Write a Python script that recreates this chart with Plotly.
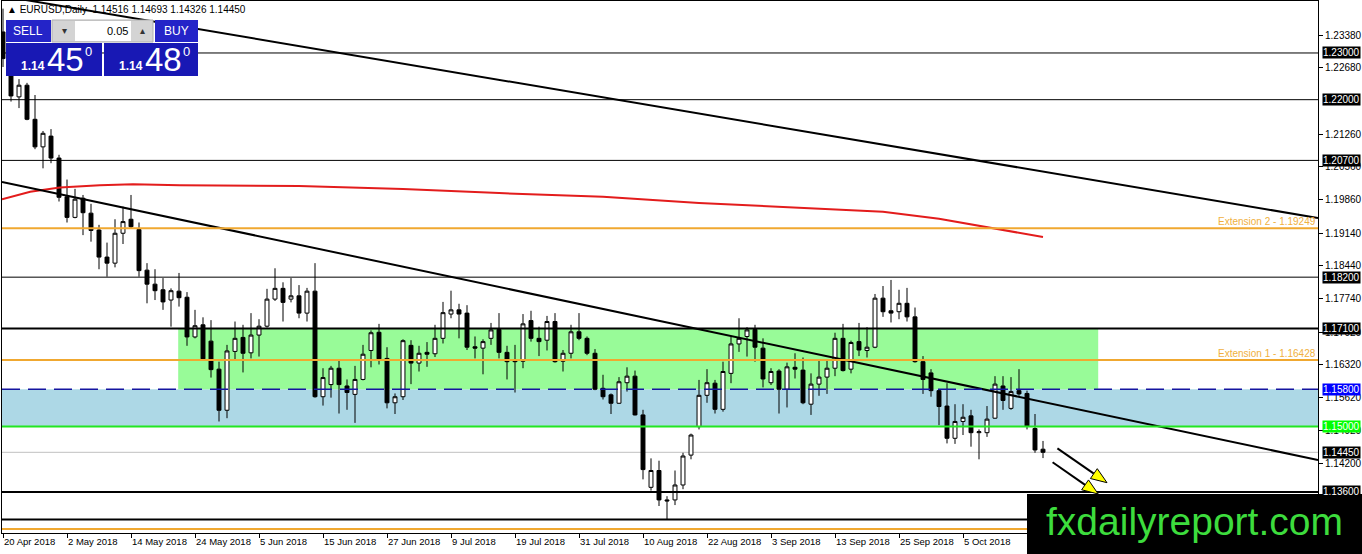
import plotly.graph_objects as go

# Datos OHLC diarios EURUSD, 20 Abr 2018 - 19 Oct 2018
opens = [1.2345, 1.2285, 1.2206, 1.2231, 1.2158, 1.2099, 1.2122, 1.2075, 1.1992, 1.1948,
         1.1989, 1.1957, 1.1921, 1.1863, 1.1850, 1.1914, 1.1944, 1.1922, 1.1835, 1.1805,
         1.1793, 1.1771, 1.1790, 1.1777, 1.1692, 1.1718, 1.1683, 1.1623, 1.1535, 1.1661,
         1.1691, 1.1658, 1.1696, 1.1715, 1.1773, 1.1796, 1.1773, 1.1780, 1.1743, 1.1790,
         1.1564, 1.1590, 1.1625, 1.1587, 1.1569, 1.1601, 1.1663, 1.1702, 1.1646, 1.1551,
         1.1564, 1.1674, 1.1636, 1.1659, 1.1656, 1.1689, 1.1741, 1.1750, 1.1743, 1.1671,
         1.1668, 1.1689, 1.1708, 1.1659, 1.1643, 1.1640, 1.1727, 1.1689, 1.1685, 1.1725,
         1.1640, 1.1657, 1.1703, 1.1689, 1.1657, 1.1582, 1.1568, 1.1550, 1.1594, 1.1608,
         1.1525, 1.1370, 1.1406, 1.1343, 1.1343, 1.1375, 1.1439, 1.1500, 1.1567, 1.1593,
         1.1537, 1.1614, 1.1677, 1.1693, 1.1708, 1.1668, 1.1594, 1.1619, 1.1580, 1.1627,
         1.1621, 1.1548, 1.1591, 1.1606, 1.1625, 1.1689, 1.1623, 1.1682, 1.1663, 1.1670,
         1.1775, 1.1748, 1.1746, 1.1764, 1.1735, 1.1639, 1.1615, 1.1577, 1.1544, 1.1475,
         1.1511, 1.1523, 1.1487, 1.1487, 1.1518, 1.1587, 1.1539, 1.1577, 1.1571, 1.1496,
         1.14516]
highs = [1.2395, 1.2300, 1.2244, 1.2236, 1.2210, 1.2133, 1.2137, 1.2082, 1.2029, 1.2009,
         1.1996, 1.1977, 1.1932, 1.1894, 1.1944, 1.1971, 1.1996, 1.1937, 1.1850, 1.1837,
         1.1818, 1.1796, 1.1829, 1.1788, 1.1750, 1.1734, 1.1728, 1.1639, 1.1675, 1.1725,
         1.1718, 1.1743, 1.1730, 1.1795, 1.1839, 1.1809, 1.1818, 1.1803, 1.1797, 1.1850,
         1.1625, 1.1630, 1.1641, 1.1601, 1.1630, 1.1675, 1.1706, 1.1720, 1.1670, 1.1571,
         1.1687, 1.1685, 1.1673, 1.1681, 1.1718, 1.1767, 1.1791, 1.1763, 1.1760, 1.1693,
         1.1687, 1.1722, 1.1743, 1.1673, 1.1675, 1.1741, 1.1748, 1.1714, 1.1737, 1.1743,
         1.1664, 1.1718, 1.1743, 1.1693, 1.1666, 1.1611, 1.1571, 1.1606, 1.1627, 1.1620,
         1.1536, 1.1432, 1.1427, 1.1351, 1.1406, 1.1444, 1.1485, 1.1600, 1.1623, 1.1600,
         1.1639, 1.1693, 1.1732, 1.1713, 1.1718, 1.1689, 1.1625, 1.1623, 1.1637, 1.1657,
         1.1648, 1.1614, 1.1641, 1.1644, 1.1701, 1.1720, 1.1684, 1.1722, 1.1713, 1.1784,
         1.1801, 1.1814, 1.1793, 1.1797, 1.1755, 1.1651, 1.1623, 1.1578, 1.1593, 1.1548,
         1.1548, 1.1536, 1.1494, 1.1544, 1.1608, 1.1608, 1.1606, 1.1623, 1.1577, 1.1527,
         1.14693]
lows = [1.2270, 1.2196, 1.2182, 1.2156, 1.2094, 1.2053, 1.2064, 1.1982, 1.1937, 1.1946,
        1.1910, 1.1896, 1.1837, 1.1821, 1.1841, 1.1891, 1.1925, 1.1821, 1.1764, 1.1771,
        1.1750, 1.1714, 1.1757, 1.1673, 1.1689, 1.1643, 1.1605, 1.1511, 1.1518, 1.1641,
        1.1616, 1.1646, 1.1650, 1.1712, 1.1769, 1.1725, 1.1766, 1.1732, 1.1725, 1.1562,
        1.1545, 1.1562, 1.1528, 1.1536, 1.1508, 1.1599, 1.1627, 1.1633, 1.1539, 1.1527,
        1.1557, 1.1591, 1.1618, 1.1628, 1.1649, 1.1678, 1.1732, 1.1689, 1.1664, 1.1646,
        1.1612, 1.1675, 1.1646, 1.1601, 1.1573, 1.1625, 1.1682, 1.1651, 1.1663, 1.1637,
        1.1618, 1.1646, 1.1685, 1.1653, 1.1578, 1.1558, 1.1527, 1.1549, 1.1575, 1.1524,
        1.1387, 1.1363, 1.1330, 1.1301, 1.1332, 1.1366, 1.1430, 1.1494, 1.1551, 1.1528,
        1.1532, 1.1593, 1.1660, 1.1650, 1.1639, 1.1584, 1.1589, 1.1528, 1.1541, 1.1603,
        1.1548, 1.1525, 1.1566, 1.1570, 1.1608, 1.1618, 1.1614, 1.1651, 1.1648, 1.1668,
        1.1735, 1.1723, 1.1730, 1.1725, 1.1637, 1.1570, 1.1564, 1.1503, 1.1464, 1.1463,
        1.1482, 1.1457, 1.1430, 1.1478, 1.1517, 1.1536, 1.1536, 1.1566, 1.1494, 1.1444,
        1.14326]
closes = [1.2288, 1.2208, 1.2231, 1.2158, 1.2099, 1.2128, 1.2075, 1.1991, 1.1948, 1.1987,
          1.1958, 1.1920, 1.1863, 1.1850, 1.1914, 1.1939, 1.1928, 1.1834, 1.1805, 1.1791,
          1.1767, 1.1791, 1.1776, 1.1692, 1.1716, 1.1645, 1.1622, 1.1535, 1.1662, 1.1689,
          1.1657, 1.1696, 1.1715, 1.1773, 1.1796, 1.1766, 1.1780, 1.1743, 1.1790, 1.1564,
          1.1605, 1.1625, 1.1590, 1.1573, 1.1601, 1.1655, 1.1701, 1.1645, 1.1551, 1.1564,
          1.1684, 1.1636, 1.1657, 1.1655, 1.1689, 1.1744, 1.1750, 1.1741, 1.1670, 1.1668,
          1.1682, 1.1707, 1.1659, 1.1639, 1.1639, 1.1720, 1.1689, 1.1682, 1.1725, 1.1639,
          1.1657, 1.1703, 1.1689, 1.1657, 1.1580, 1.1564, 1.1550, 1.1596, 1.1608, 1.1525,
          1.1408, 1.1406, 1.1343, 1.1341, 1.1375, 1.1437, 1.1482, 1.1567, 1.1594, 1.1537,
          1.1618, 1.1677, 1.1689, 1.1707, 1.1670, 1.1602, 1.1618, 1.1580, 1.1628, 1.1623,
          1.1551, 1.1591, 1.1606, 1.1625, 1.1689, 1.1620, 1.1680, 1.1664, 1.1670, 1.1775,
          1.1746, 1.1743, 1.1764, 1.1735, 1.1639, 1.1601, 1.1577, 1.1543, 1.1475, 1.1511,
          1.1520, 1.1487, 1.1489, 1.1516, 1.1591, 1.1556, 1.1575, 1.1570, 1.1501, 1.1450,
          1.14450]

# etiquetas del eje X (cada 8 velas)
fechas_ticks = ["20 Apr 2018", "2 May 2018", "14 May 2018", "24 May 2018", "5 Jun 2018",
                "15 Jun 2018", "27 Jun 2018", "9 Jul 2018", "19 Jul 2018", "31 Jul 2018",
                "10 Aug 2018", "22 Aug 2018", "3 Sep 2018", "13 Sep 2018", "25 Sep 2018",
                "5 Oct 2018"]

# media movil (roja)
ma_x = [-0.125, 3.4, 7.1, 12.1, 16.25, 22.1, 37, 50, 62, 75, 87, 100, 110, 117, 122, 126, 130]
ma_y = [1.1987, 1.2003, 1.2012, 1.2017, 1.2019, 1.2017, 1.2015, 1.2009, 1.2000, 1.1992,
        1.1979, 1.1968, 1.1960, 1.1945, 1.1930, 1.1919, 1.1906]

# lineas de tendencia
tend1_x = [-0.125, 164.375]
tend1_y = [1.2422, 1.19467]
tend2_x = [-0.125, 164.375]
tend2_y = [1.20238, 1.14285]

# niveles horizontales
niveles_negros = [1.2300, 1.2200, 1.2070, 1.1820]
niveles_gruesos = [1.1710, 1.1360, 1.1301]
niveles_naranja = [1.19249, 1.16428, 1.1281]
nivel_azul = 1.1580
nivel_verde = 1.1500
nivel_bid = 1.1445

# zonas
zona_verde = [21.9, 136.9, 1.1580, 1.1710]
zona_azul = [1.1500, 1.1580]

# ticks del eje de precios
ticks_precio = [1.2338, 1.2268, 1.2126, 1.2056, 1.1986, 1.1914, 1.1844, 1.1774, 1.1702,
                1.1632, 1.1562, 1.1492, 1.1420]

# flechas (inicio -> punta)
flecha_x0 = [131.8, 131.2]
flecha_y0 = [1.14535, 1.14238]
flecha_x1 = [138.0, 136.9]
flecha_y1 = [1.13799, 1.13557]

X_RANGE = [-0.125, 164.375]
Y_RANGE = [1.12722, 1.24113]
W, H = 1362, 554
ML, MR, MT, MB = 2, 44, 1, 21
PW, PH = W - ML - MR, H - MT - MB
FONT = "Liberation Sans, Arial, sans-serif"


def px(x):
    return (x - ML) / PW


def py(y):
    return (H - MB - y) / PH


fig = go.Figure()

fig.add_trace(go.Candlestick(
    x=list(range(len(opens))), open=opens, high=highs, low=lows, close=closes,
    increasing=dict(fillcolor="white", line=dict(color="black", width=1)),
    decreasing=dict(fillcolor="black", line=dict(color="black", width=1)),
    whiskerwidth=0, hoverinfo="skip", showlegend=False))

fig.add_trace(go.Scatter(x=ma_x, y=ma_y, mode="lines", line=dict(color="#e31c1c", width=2),
                         hoverinfo="skip", showlegend=False))
fig.add_trace(go.Scatter(x=tend1_x, y=tend1_y, mode="lines", line=dict(color="black", width=2),
                         hoverinfo="skip", showlegend=False))
fig.add_trace(go.Scatter(x=tend2_x, y=tend2_y, mode="lines", line=dict(color="black", width=2),
                         hoverinfo="skip", showlegend=False))

shapes = []
# zonas de fondo
shapes.append(dict(type="rect", xref="paper", yref="y", x0=0, x1=1, y0=zona_azul[0], y1=zona_azul[1],
                   fillcolor="#add8e6", line=dict(width=0), layer="below"))
shapes.append(dict(type="rect", xref="x", yref="y", x0=zona_verde[0], x1=zona_verde[1],
                   y0=zona_verde[2], y1=zona_verde[3], fillcolor="#98fb98", line=dict(width=0), layer="below"))

# lineas horizontales
shapes.append(dict(type="line", xref="paper", yref="y", x0=0, x1=1, y0=nivel_bid, y1=nivel_bid,
                   line=dict(color="#c0c0c0", width=1), layer="below"))
for n in niveles_negros:
    shapes.append(dict(type="line", xref="paper", yref="y", x0=0, x1=1, y0=n, y1=n,
                       line=dict(color="black", width=1), layer="above"))
for n in niveles_gruesos:
    shapes.append(dict(type="line", xref="paper", yref="y", x0=0, x1=1, y0=n, y1=n,
                       line=dict(color="black", width=2), layer="above"))
for n in niveles_naranja:
    shapes.append(dict(type="line", xref="paper", yref="y", x0=0, x1=1, y0=n, y1=n,
                       line=dict(color="#f0a830", width=2), layer="above"))
shapes.append(dict(type="line", xref="paper", yref="y", x0=0, x1=1, y0=nivel_azul, y1=nivel_azul,
                   line=dict(color="#1515a0", width=1.3, dash="18px,8px"), layer="above"))
shapes.append(dict(type="line", xref="paper", yref="y", x0=0, x1=1, y0=nivel_verde, y1=nivel_verde,
                   line=dict(color="#22e622", width=2), layer="above"))

# flechas: cuerpo negro y punta amarilla
sx = PW / (X_RANGE[1] - X_RANGE[0])
sy = PH / (Y_RANGE[1] - Y_RANGE[0])
for x0, y0, x1, y1 in zip(flecha_x0, flecha_y0, flecha_x1, flecha_y1):
    dxp, dyp = (x1 - x0) * sx, -(y1 - y0) * sy
    L = (dxp ** 2 + dyp ** 2) ** 0.5
    ux, uy = dxp / L, dyp / L
    bx, by = -ux * 16, -uy * 16
    nx, ny = -uy * 6, ux * 6
    base_x, base_y = x1 + bx / sx, y1 - by / sy
    p1 = (base_x + nx / sx, base_y - ny / sy)
    p2 = (base_x - nx / sx, base_y + ny / sy)
    shapes.append(dict(type="line", xref="x", yref="y", x0=x0, y0=y0, x1=base_x, y1=base_y,
                       line=dict(color="black", width=2), layer="above"))
    shapes.append(dict(type="path", xref="x", yref="y",
                       path=f"M {x1},{y1} L {p1[0]},{p1[1]} L {p2[0]},{p2[1]} Z",
                       fillcolor="#ffff00", line=dict(color="black", width=1), layer="above"))

# panel de compra / venta
azul_btn = "#2424c8"
azul_precio = "#1818b4"
shapes += [
    dict(type="rect", xref="paper", yref="paper", x0=px(6), x1=px(51), y0=py(42), y1=py(20),
         fillcolor=azul_btn, line=dict(width=0), layer="above"),
    dict(type="rect", xref="paper", yref="paper", x0=px(52), x1=px(153), y0=py(42), y1=py(20),
         fillcolor="#d4d4d4", line=dict(color="#b0b0b0", width=1), layer="above"),
    dict(type="rect", xref="paper", yref="paper", x0=px(75), x1=px(131), y0=py(41), y1=py(21),
         fillcolor="white", line=dict(width=0), layer="above"),
    dict(type="rect", xref="paper", yref="paper", x0=px(155), x1=px(198), y0=py(42), y1=py(20),
         fillcolor=azul_btn, line=dict(width=0), layer="above"),
    dict(type="rect", xref="paper", yref="paper", x0=px(6), x1=px(102), y0=py(76), y1=py(43),
         fillcolor=azul_precio, line=dict(width=0), layer="above"),
    dict(type="rect", xref="paper", yref="paper", x0=px(104), x1=px(198), y0=py(76), y1=py(43),
         fillcolor=azul_precio, line=dict(width=0), layer="above"),
    # logo
    dict(type="rect", xref="paper", yref="paper", x0=px(1027), x1=px(1362), y0=py(554), y1=py(494),
         fillcolor="black", line=dict(width=0), layer="above"),
]

annotations = []


def texto(x, y, t, size=10, color="black", xanchor="left", bold=False, bg=None):
    annotations.append(dict(xref="paper", yref="paper", x=px(x), y=py(y), text=f"<b>{t}</b>" if bold else t,
                            showarrow=False, xanchor=xanchor, yanchor="middle",
                            font=dict(family=FONT, size=size, color=color),
                            bgcolor=bg, borderpad=0))


texto(6, 10, "▲ EURUSD,Daily  1.14516 1.14693 1.14326 1.14450", size=10)
texto(28, 31, "SELL", size=12, color="white", xanchor="center")
texto(176, 31, "BUY", size=12, color="white", xanchor="center")
texto(129, 31, "0.05", size=11, xanchor="right")
texto(64, 31, "▾", size=10, color="#333333", xanchor="center")
texto(142, 31, "▴", size=10, color="#333333", xanchor="center")
texto(20, 66, "1.14", size=12, color="white", bold=True)
texto(46, 60, "45", size=33, color="white")
texto(84, 51, "0", size=13, color="white")
texto(118, 66, "1.14", size=12, color="white", bold=True)
texto(144, 60, "48", size=33, color="white")
texto(182, 51, "0", size=13, color="white")
texto(1194, 521, "fxdailyreport.com", size=39, color="#3ddc3d", xanchor="center")

# textos de extension
for n, t in [(niveles_naranja[0], "Extension 2 - 1.19249"), (niveles_naranja[1], "Extension 1 - 1.16428")]:
    annotations.append(dict(xref="paper", yref="y", x=1, y=n, text=t, showarrow=False,
                            xanchor="right", yanchor="bottom", yshift=-1,
                            font=dict(family=FONT, size=10, color="#f0b040")))

# etiquetas de niveles en el eje de precios
etiquetas = [(1.2300, "black", "white"), (1.2200, "black", "white"), (1.2070, "black", "white"),
             (1.1820, "black", "white"), (1.1710, "black", "white"), (nivel_azul, "#0000ff", "white"),
             (nivel_verde, "#00ff00", "white"), (nivel_bid, "black", "white"), (1.1360, "black", "white")]
for n, bg, fc in etiquetas:
    annotations.append(dict(xref="paper", yref="y", x=1, y=n, xshift=4, text=f"{n:.5f}", showarrow=False,
                            xanchor="left", yanchor="middle", bgcolor=bg, borderpad=0,
                            font=dict(family=FONT, size=10, color=fc)))

fig.update_layout(
    width=W, height=H,
    margin=dict(l=ML, r=MR, t=MT, b=MB),
    paper_bgcolor="white", plot_bgcolor="white",
    shapes=shapes, annotations=annotations,
    showlegend=False,
)

fig.update_xaxes(
    range=X_RANGE, rangeslider_visible=False,
    tickvals=list(range(0, 8 * len(fechas_ticks), 8)), ticktext=fechas_ticks,
    ticks="outside", ticklen=4, tickcolor="black", ticklabelposition="outside right",
    tickfont=dict(family=FONT, size=9.5, color="black"),
    showgrid=False, zeroline=False, showline=True, mirror=True, linecolor="black", linewidth=1,
)
fig.update_yaxes(
    range=Y_RANGE, side="right",
    tickvals=ticks_precio, ticktext=[f"{v:.5f}" for v in ticks_precio],
    ticks="outside", ticklen=4, tickcolor="black",
    tickfont=dict(family=FONT, size=10, color="black"),
    showgrid=False, zeroline=False, showline=True, mirror=True, linecolor="black", linewidth=1,
)

# quitar el margen del body para que la figura ocupe la ventana exacta
fig.write_html("out.html", config={"displayModeBar": False},
               post_script="document.body.style.margin='0';document.body.style.overflow='hidden';")
